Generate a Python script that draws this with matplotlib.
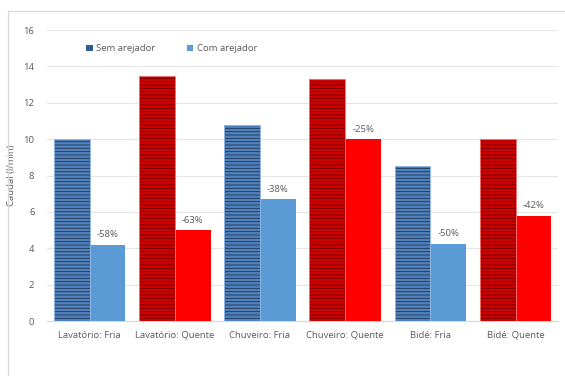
import numpy as np
import matplotlib.pyplot as plt
from matplotlib.patches import Patch, Rectangle

# Caudal com e sem arejador
categorias = ["Lavatório: Fria", "Lavatório: Quente", "Chuveiro: Fria",
              "Chuveiro: Quente", "Bidé: Fria", "Bidé: Quente"]
sem_arejador = [10.0, 13.5, 10.8, 13.3, 8.5, 10.0]
com_arejador = [4.2, 5.0, 6.7, 10.0, 4.25, 5.8]
reducao = ["-58%", "-63%", "-38%", "-25%", "-50%", "-42%"]
quente = [False, True, False, True, False, True]

plt.rcParams.update({
    "font.family": ["Open Sans", "DejaVu Sans"],
    "font.size": 6.8,
    "hatch.linewidth": 0.6,
})
txt = "#595959"

fig = plt.figure(figsize=(5.65, 3.76), dpi=100)
ax = fig.add_axes([0.083, 0.146, 0.905, 0.774])

# moldura do gráfico
fig.patches.append(Rectangle((8 / 565, -0.1), 1.2, 1 - 11 / 376 + 0.1,
                             transform=fig.transFigure, fill=False,
                             edgecolor="#d9d9d9", linewidth=0.9))

x = np.arange(len(categorias))
w = 0.42
for i in range(len(categorias)):
    if quente[i]:
        c_sem, h_sem, borda, c_com = "#d00000", "#6a0000", "#f07070", "#ff0000"
    else:
        c_sem, h_sem, borda, c_com = "#4f81bd", "#1f3550", "#8fb4e0", "#5b9bd5"
    ax.bar(x[i] - w / 2, sem_arejador[i], w, color=c_sem, edgecolor=h_sem,
           hatch="-----", linewidth=0, zorder=3)
    ax.bar(x[i] - w / 2, sem_arejador[i], w, fill=False, edgecolor=borda,
           linewidth=0.7, zorder=4)
    ax.bar(x[i] + w / 2, com_arejador[i], w, color=c_com, linewidth=0,
           zorder=3)
    ax.text(x[i] + w / 2, com_arejador[i] + 0.3, reducao[i], ha="center",
            va="bottom", color=txt)

ax.set_xlim(-0.5, len(categorias) - 0.5)
ax.set_ylim(0, 16)
ax.set_yticks(range(0, 17, 2))
ax.set_xticks(x)
ax.set_xticklabels(categorias)
ax.tick_params(length=0, colors=txt, labelsize=6.8)
ax.tick_params(axis="y", pad=9)
ax.tick_params(axis="x", pad=7)
ax.grid(axis="y", color="#e6e6e6", linewidth=0.8, zorder=0)
for s in ["top", "right", "left"]:
    ax.spines[s].set_visible(False)
ax.spines["bottom"].set_color("#d9d9d9")
ax.set_ylabel("Caudal (l/min)", color=txt, labelpad=5)

handles = [Patch(facecolor="#2f5f8f", label="Sem arejador"),
           Patch(facecolor="#5b9bd5", label="Com arejador")]
ax.legend(handles=handles, loc="upper left", bbox_to_anchor=(0.06, 0.98),
          ncol=2, frameon=False, handlelength=0.7, handleheight=0.7,
          handletextpad=0.4, columnspacing=3.3, labelcolor=txt)

fig.savefig("out.png", dpi=100)
